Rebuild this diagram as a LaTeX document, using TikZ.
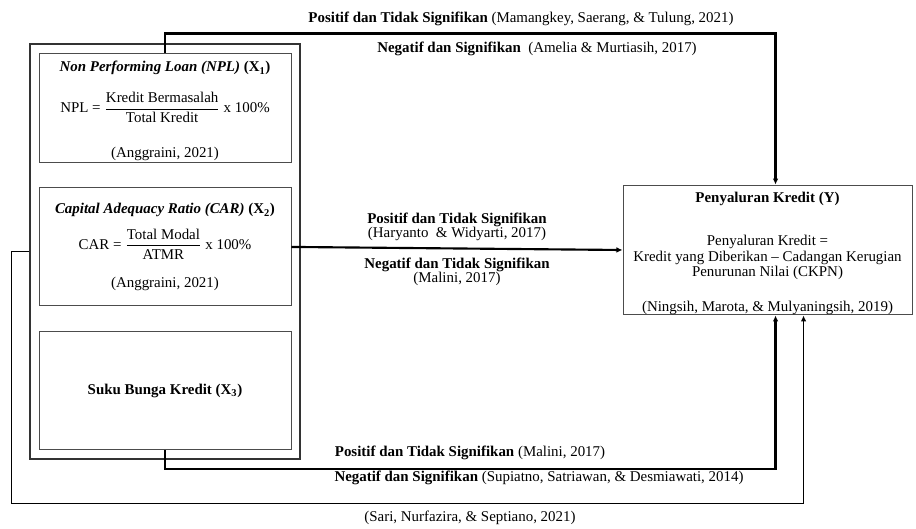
\documentclass[tikz,border=0pt]{standalone}
\usepackage{fontspec}
\usepackage{amsmath}
\setmainfont{Liberation Serif}
\usetikzlibrary{arrows.meta,positioning,calc,fit}

\begin{document}
\begin{tikzpicture}[
  x=0.75pt,y=-0.75pt,
  font=\fontsize{11.2}{11.5}\selectfont,
  varbox/.style={draw=black!70,line width=0.7pt,minimum width=189pt,minimum height=#1,inner sep=0pt,align=center},
  group/.style={draw=black!80,line width=1pt,inner sep=6.4pt},
  arrow/.style={-{Latex[length=1.6mm,width=1.5mm]},line width=1.6pt},
  thinarrow/.style={-{Latex[length=1.6mm,width=1.5mm]},line width=0.9pt},
  lbl/.style={inner sep=1pt,align=center}
]
  \useasboundingbox (0,0) rectangle (916,528);
  % variabel independen
  \node[varbox=81.75pt] (npl) at (165,107.5) {\rule{0pt}{13pt}\textbf{\textit{Non Performing Loan (NPL)} (X\textsubscript{1})}\\[12pt]
    NPL = $\dfrac{\text{Kredit Bermasalah}}{\text{Total Kredit}}$ x 100\%\\[17pt]
    (Anggraini, 2021)};
  \node[varbox=88.5pt,below=18.75pt of npl] (car) {\textbf{\textit{Capital Adequacy Ratio (CAR)} (X\textsubscript{2})}\\[8pt]
    CAR = $\dfrac{\text{Total Modal}}{\text{ATMR}}$ x 100\%\\[12pt]
    (Anggraini, 2021)};
  \node[varbox=88.5pt,below=18.75pt of car] (suku) {\textbf{Suku Bunga Kredit (X\textsubscript{3})}};
  \node[group,fit=(npl)(suku)] (grp) {};
  % variabel dependen
  \node[draw=black!70,line width=0.7pt,minimum width=216.75pt,minimum height=96pt,inner ysep=0pt,align=center] (kredit) at (767.5,250)
    {\rule{0pt}{13pt}\textbf{Penyaluran Kredit (Y)}\\[21pt]
     Penyaluran Kredit =\\
     Kredit yang Diberikan -- Cadangan Kerugian\\
     Penurunan Nilai (CKPN)\\[15pt]
     (Ningsih, Marota, \& Mulyaningsih, 2019)};
  \coordinate (kin0) at ($(kredit.north west)+(153,0)$);
  \coordinate (kin1) at ($(kredit.south west)+(153,0)$);
  \coordinate (kin2) at ($(kredit.south west)+(181,0)$);
  % hubungan
  \draw[arrow] (npl.north)--++(0,-19)-|(kin0);
  \draw[arrow] (car.east)--node[lbl,above=4pt]{\textbf{Positif dan Tidak Signifikan}\\[-1pt](Haryanto \ \& Widyarti, 2017)}
    node[lbl,below=5pt]{\textbf{Negatif dan Tidak Signifikan}\\[-1pt](Malini, 2017)}(kredit.west);
  \draw[arrow] (suku.south)--++(0,19)-|(kin1);
  \draw[thinarrow] (grp.west)--++(-18,0)--++(0,252)-|(kin2);
  \node[lbl] (pos1) at (521,19) {\textbf{Positif dan Tidak Signifikan} (Mamangkey, Saerang, \& Tulung, 2021)};
  \node[lbl] (neg1) at (537,49) {\textbf{Negatif dan Signifikan}\ \ (Amelia \& Murtiasih, 2017)};
  \node[lbl] (pos3) at (470,453) {\textbf{Positif dan Tidak Signifikan} (Malini, 2017)};
  \node[lbl] (neg3) at (539,478) {\textbf{Negatif dan Signifikan} (Supiatno, Satriawan, \& Desmiawati, 2014)};
  \node[lbl] (sari) at (470,518) {(Sari, Nurfazira, \& Septiano, 2021)};
\end{tikzpicture}
\end{document}
